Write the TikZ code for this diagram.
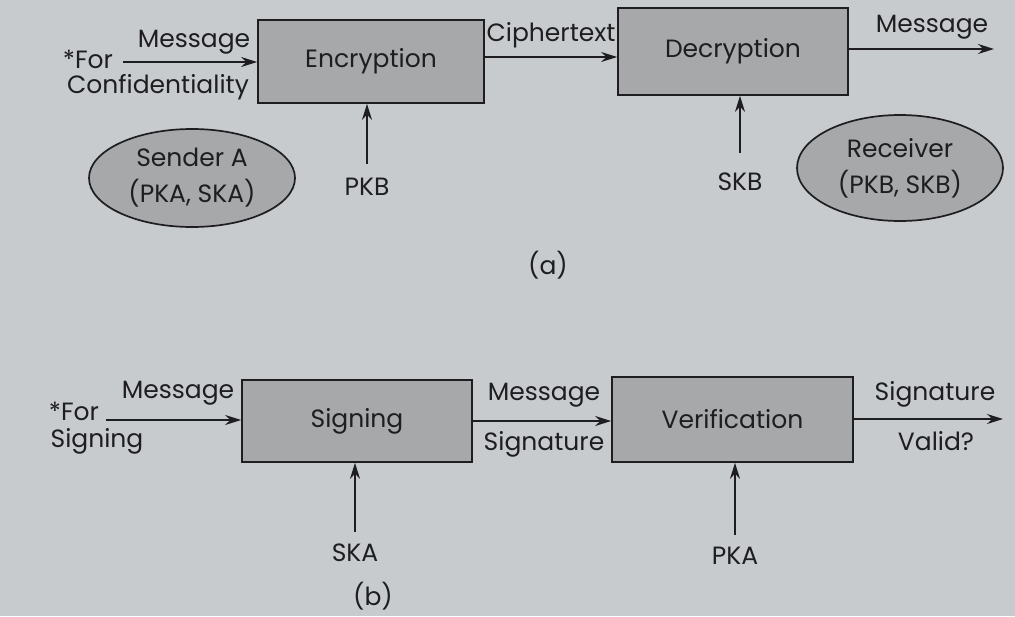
\documentclass[tikz,border=0pt]{standalone}
\usepackage{fontspec}
\setmainfont{Poppins}
\usetikzlibrary{arrows.meta}
\definecolor{paper}{RGB}{200,203,205}
\definecolor{boxfill}{RGB}{166,168,169}
\definecolor{ink}{RGB}{30,30,33}
\tikzset{
  blk/.style={draw=ink, line width=1.7pt, fill=boxfill, inner sep=0pt, text=ink, font=\fontsize{25}{29}\selectfont},
  ell/.style={ellipse, draw=ink, line width=1.7pt, fill=boxfill, inner sep=0pt, text=ink, font=\fontsize{25}{36}\selectfont, align=center},
  lbl/.style={inner sep=0pt, text=ink, font=\fontsize{25}{29}\selectfont},
  arr/.style={draw=ink, line width=1.7pt, -{Stealth[length=16pt,width=10pt]}}
}
\usetikzlibrary{shapes.geometric}
\begin{document}
\begin{tikzpicture}[x=1pt,y=-1pt]
\fill[paper] (0,0) rectangle (1015,616);
\useasboundingbox (0,0) rectangle (1015,616);
% (a)
\node[blk, minimum width=226pt, minimum height=83pt] (enc) at (371,61.5) {Encryption};
\node[blk, minimum width=230pt, minimum height=87pt] (dec) at (733,51.5) {Decryption};
\node[lbl] (fora) at (88,59) {*For};
\node[lbl] (msga) at (194,42) {Message};
\node[lbl] (conf) at (158,87) {Confidentiality};
\node[lbl] (ciph) at (551,35) {Ciphertext};
\node[lbl] (msgo) at (932,27) {Message};
\node[lbl] (pkb) at (367,187) {PKB};
\node[lbl] (skb) at (740,182) {SKB};
\node[ell, minimum width=206pt, minimum height=98pt] (snd) at (192,178) {Sender A\\(PKA, SKA)};
\node[ell, minimum width=206pt, minimum height=106pt] (rcv) at (900,168) {Receiver\\(PKB, SKB)};
\node[lbl] (capa) at (548,265) {(a)};
\coordinate (ina) at (123,62);
\coordinate (outa) at (994,49);
\draw[arr] (ina) -- (enc.west |- ina);
\draw[arr] (enc.east |- 0,57) -- (dec.west |- 0,57);
\draw[arr] (dec.east |- outa) -- (outa);
\draw[arr] (pkb.north) ++(0,-14) coordinate (pkbt) (pkbt) -- (enc.south -| pkbt);
\draw[arr] (skb.north) ++(0,-20) coordinate (skbt) (skbt) -- (dec.south -| skbt);
% (b)
\node[blk, minimum width=230pt, minimum height=82pt] (sgn) at (357,421) {Signing};
\node[blk, minimum width=241pt, minimum height=85pt] (ver) at (732.5,419.5) {Verification};
\node[lbl] (forb) at (74,411) {*For};
\node[lbl] (sigb) at (97,441) {Signing};
\node[lbl] (msgb) at (178,393) {Message};
\node[lbl] (msgc) at (544,395) {Message};
\node[lbl] (sigc) at (544,444) {Signature};
\node[lbl] (sigd) at (935,394) {Signature};
\node[lbl] (vald) at (936,441) {Valid?};
\node[lbl] (ska) at (355,553) {SKA};
\node[lbl] (pka) at (735,556) {PKA};
\node[lbl] (capb) at (373,596) {(b)};
\coordinate (inb) at (106,420);
\coordinate (outb) at (1003,419);
\draw[arr] (inb) -- (sgn.west |- inb);
\draw[arr] (sgn.east |- 0,421) -- (ver.west |- 0,421);
\draw[arr] (ver.east |- outb) -- (outb);
\draw[arr] (ska.north) ++(0,-12) coordinate (skat) (skat) -- (sgn.south -| skat);
\draw[arr] (pka.north) ++(0,-12) coordinate (pkat) (pkat) -- (ver.south -| pkat);
\end{tikzpicture}
\end{document}
